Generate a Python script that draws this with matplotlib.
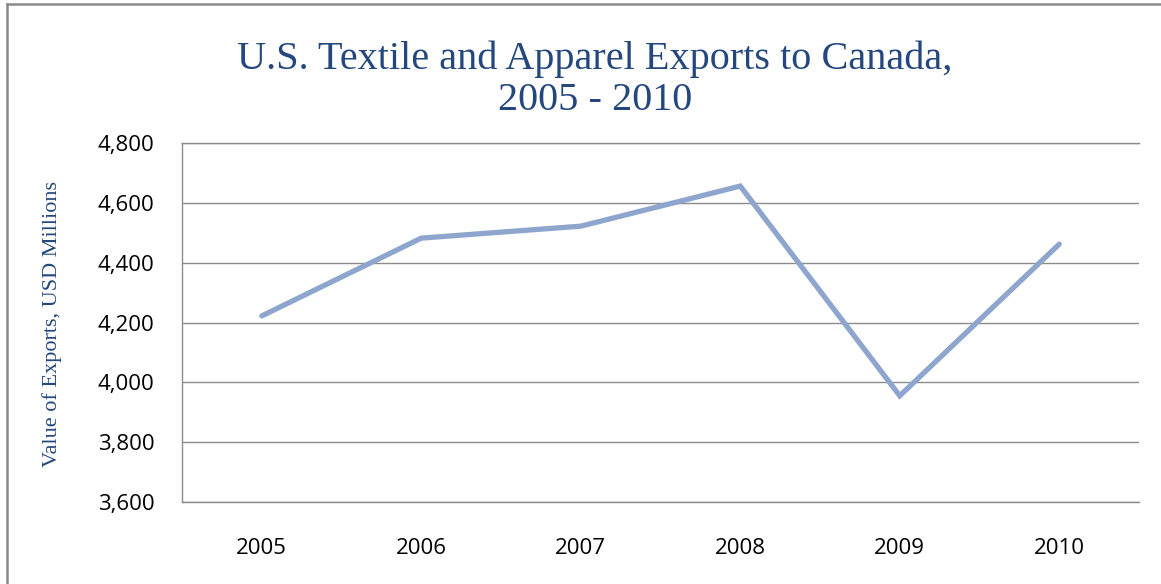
import matplotlib
matplotlib.use("Agg")
import matplotlib.pyplot as plt
from matplotlib.lines import Line2D

years = ["2005", "2006", "2007", "2008", "2009", "2010"]
exports = [4222, 4482, 4522, 4656, 3955, 4462]
yticks = [3600, 3800, 4000, 4200, 4400, 4600, 4800]
ytick_labels = ["3,600", "3,800", "4,000", "4,200", "4,400", "4,600", "4,800"]

title_color = "#24487e"
grid_color = "#8c8c8c"
W, H = 1161, 584
fig = plt.figure(figsize=(W / 100, H / 100), dpi=100)
ax = fig.add_axes([182 / W, 1 - 502 / H, (1139 - 182) / W, (502 - 143) / H])

x = list(range(len(years)))
ax.plot(x, exports, color="#8ea6ce", lw=3.8, solid_joinstyle="miter", solid_capstyle="round", zorder=3)

ax.set_xlim(-0.5, len(years) - 0.5)
ax.set_ylim(3600, 4800)
ax.set_yticks(yticks)
ax.set_yticklabels(ytick_labels)
ax.set_xticks(x)
ax.set_xticklabels(years)
ax.grid(axis="y", color=grid_color, lw=1.0, zorder=1)
ax.spines["right"].set_visible(False)
for s in ["left", "top", "bottom"]:
    ax.spines[s].set_color(grid_color)
    ax.spines[s].set_linewidth(1.0)
ax.tick_params(axis="both", length=0, labelsize=16, colors="#000000")
ax.tick_params(axis="y", pad=20)
ax.tick_params(axis="x", pad=26)
for lab in ax.get_xticklabels() + ax.get_yticklabels():
    lab.set_fontfamily("Open Sans")

fig.text(595 / W, 1 - 80 / H, "U.S. Textile and Apparel Exports to Canada,\n2005 - 2010",
         ha="center", va="center", fontsize=29, family="Liberation Serif",
         color=title_color, linespacing=1.15)
fig.text(52 / W, 1 - 324 / H, "Value of Exports, USD Millions", rotation=90,
         ha="center", va="center", fontsize=16, family="Liberation Serif", color=title_color)

fig.add_artist(Line2D([7 / W, 7 / W], [0, 1 - 4 / H], transform=fig.transFigure, color="#8a8a8a", lw=1.8))
fig.add_artist(Line2D([7 / W, 1], [1 - 4 / H, 1 - 4 / H], transform=fig.transFigure, color="#8a8a8a", lw=1.8))

fig.savefig("out.png", dpi=100)
